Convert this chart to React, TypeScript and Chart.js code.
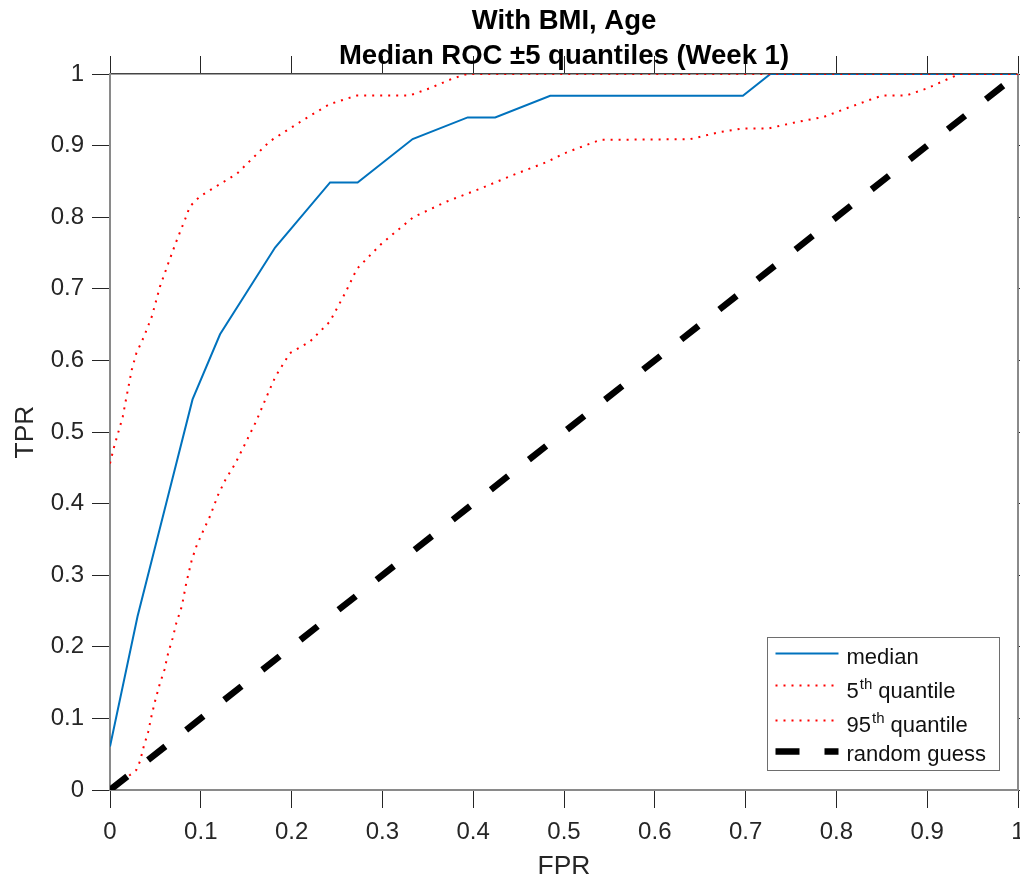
import React, { useEffect, useRef } from "react";
import { Chart, registerables } from "chart.js";

Chart.register(...registerables);

// ---------- text ----------
const titleLines = ["With BMI, Age", "Median ROC ±5 quantiles (Week 1)"];
const xAxisLabel = "FPR";
const yAxisLabel = "TPR";
const tickLabels = ["0", "0.1", "0.2", "0.3", "0.4", "0.5", "0.6", "0.7", "0.8", "0.9", "1"];
// legend: [base, superscript, rest]
const legendLabels: [string, string, string][] = [
  ["median", "", ""],
  ["5", "th", " quantile"],
  ["95", "th", " quantile"],
  ["random guess", "", ""],
];

// ---------- data ----------
const medianFPR = [0, 0.0303, 0.0606, 0.0909, 0.1212, 0.1818, 0.2424, 0.2727, 0.3333, 0.3939, 0.4242, 0.4848, 0.697, 0.7273, 1];
const medianTPR = [0.0606, 0.2424, 0.394, 0.5455, 0.6364, 0.7576, 0.8485, 0.8485, 0.9091, 0.9394, 0.9394, 0.9697, 0.9697, 1, 1];

const upperFPR = [0, 0.004, 0.009, 0.014, 0.018, 0.024, 0.029, 0.037, 0.046, 0.055, 0.064, 0.073, 0.083, 0.088, 0.099, 0.14, 0.176, 0.213, 0.242, 0.272, 0.33, 0.352, 0.378, 0.393, 1];
const upperTPR = [0.456, 0.477, 0.499, 0.521, 0.548, 0.587, 0.61, 0.632, 0.661, 0.703, 0.735, 0.766, 0.798, 0.815, 0.829, 0.861, 0.906, 0.936, 0.958, 0.97, 0.97, 0.98, 0.994, 1, 1];

const lowerFPR = [0, 0.022, 0.029, 0.033, 0.037, 0.042, 0.046, 0.05, 0.055, 0.06, 0.064, 0.069, 0.073, 0.079, 0.084, 0.09, 0.095, 0.103, 0.11, 0.119, 0.127, 0.138, 0.149, 0.161, 0.171, 0.182, 0.198, 0.22, 0.242, 0.259, 0.272, 0.299, 0.334, 0.371, 0.408, 0.444, 0.481, 0.5, 0.525, 0.54, 0.639, 0.672, 0.698, 0.725, 0.753, 0.786, 0.811, 0.837, 0.851, 0.877, 0.9, 0.921, 0.936, 1];
const lowerTPR = [0, 0.021, 0.028, 0.04, 0.06, 0.081, 0.105, 0.126, 0.149, 0.168, 0.191, 0.212, 0.233, 0.256, 0.289, 0.321, 0.34, 0.363, 0.382, 0.412, 0.433, 0.456, 0.484, 0.515, 0.545, 0.577, 0.61, 0.626, 0.654, 0.694, 0.728, 0.763, 0.8, 0.822, 0.84, 0.859, 0.877, 0.889, 0.901, 0.908, 0.909, 0.919, 0.924, 0.924, 0.932, 0.94, 0.952, 0.964, 0.97, 0.97, 0.98, 0.992, 1, 1];

const randomFPR = [0, 1];
const randomTPR = [0, 1];

const pairs = (xs: number[], ys: number[]) => xs.map((x, i) => ({ x, y: ys[i] }));

const FONT = "'Liberation Sans', Arial, Helvetica, sans-serif";
const TEXT = "#262626";

const legendPlugin = {
  id: "matlabLegend",
  afterDraw(chart: any) {
    const { ctx, chartArea } = chart;
    const ds = chart.data.datasets;
    ctx.save();
    const bw = 232;
    const bh = 133;
    const bx = Math.round(chartArea.right - 19 - bw) + 0.5;
    const by = Math.round(chartArea.bottom - 20 - bh) + 0.5;
    ctx.fillStyle = "#ffffff";
    ctx.fillRect(bx, by, bw, bh);
    ctx.strokeStyle = "#6e6e6e";
    ctx.lineWidth = 1;
    ctx.strokeRect(bx, by, bw, bh);
    const lineY = [16, 48, 83, 114];
    const baseY = [26, 60, 94, 123];
    const x0 = bx + 8;
    const x1 = bx + 71;
    const tx = bx + 79;
    legendLabels.forEach((lab, i) => {
      const d = ds[i];
      ctx.save();
      ctx.beginPath();
      ctx.strokeStyle = d.borderColor;
      ctx.lineWidth = d.borderWidth;
      ctx.lineCap = "butt";
      ctx.setLineDash(d.legendDash || d.borderDash || []);
      ctx.moveTo(x0, by + lineY[i]);
      ctx.lineTo(x1, by + lineY[i]);
      ctx.stroke();
      ctx.restore();
      ctx.fillStyle = "#111";
      ctx.textBaseline = "alphabetic";
      ctx.textAlign = "left";
      ctx.font = `22px ${FONT}`;
      let x = tx;
      const y = by + baseY[i];
      ctx.fillText(lab[0], x, y);
      x += ctx.measureText(lab[0]).width;
      if (lab[1]) {
        ctx.font = `15px ${FONT}`;
        ctx.fillText(lab[1], x + 1, y - 9);
        x += ctx.measureText(lab[1]).width + 1;
        ctx.font = `22px ${FONT}`;
        ctx.fillText(lab[2], x, y);
      }
    });
    ctx.restore();
  },
};

const tickFmt = (v: any) => {
  const i = Math.round(Number(v) * 10);
  return Math.abs(Number(v) * 10 - i) < 1e-6 ? tickLabels[i] : "";
};

export default function App() {
  const ref = useRef<HTMLCanvasElement | null>(null);
  useEffect(() => {
    if (!ref.current) return;
    Chart.defaults.font.family = FONT;
    const common = {
      type: "linear" as const,
      min: 0,
      max: 1,
    };
    const chart = new Chart(ref.current, {
      type: "scatter",
      data: {
        datasets: [
          {
            label: "median",
            data: pairs(medianFPR, medianTPR),
            showLine: true,
            borderColor: "#0072BD",
            borderWidth: 2,
            pointRadius: 0,
            order: 4,
          },
          {
            label: "5th quantile",
            data: pairs(upperFPR, upperTPR),
            showLine: true,
            borderColor: "#FF0000",
            borderWidth: 2,
            borderDash: [2, 6],
            pointRadius: 0,
            order: 3,
          },
          {
            label: "95th quantile",
            data: pairs(lowerFPR, lowerTPR),
            showLine: true,
            borderColor: "#FF0000",
            borderWidth: 2,
            borderDash: [2, 6],
            pointRadius: 0,
            order: 2,
          },
          {
            label: "random guess",
            data: pairs(randomFPR, randomTPR),
            showLine: true,
            borderColor: "#000000",
            borderWidth: 6.5,
            borderDash: [22, 26.5],
            legendDash: [24, 25],
            borderCapStyle: "butt",
            pointRadius: 0,
            order: 1,
          },
        ] as any,
      },
      options: {
        animation: false,
        responsive: true,
        maintainAspectRatio: false,
        devicePixelRatio: 1,
        layout: { padding: 0 },
        events: [],
        plugins: {
          legend: { display: false },
          tooltip: { enabled: false },
          title: {
            display: true,
            fullSize: false,
            text: titleLines,
            color: "#000",
            font: { size: 27.5, weight: "bold", lineHeight: 35 / 27.5, family: FONT },
            padding: { top: 4, bottom: 0 },
          },
        },
        scales: {
          x: {
            ...common,
            position: "bottom",
            ticks: { stepSize: 0.1, callback: tickFmt, color: TEXT, font: { size: 24 }, padding: 10, maxRotation: 0, autoSkip: false },
            grid: { drawOnChartArea: false, drawTicks: true, tickLength: 18, tickColor: "#262626", lineWidth: 1 },
            border: { display: true, color: "#8a8a8a", width: 2 },
            title: { display: true, text: xAxisLabel, color: TEXT, font: { size: 26.4, lineHeight: 1 }, padding: { top: 0, bottom: 0 } },
            afterFit: (s: any) => {
              s.height = 90;
              s.paddingLeft = 0;
              s.paddingRight = 0;
            },
          },
          x2: {
            ...common,
            position: "top",
            ticks: { stepSize: 0.1, display: false },
            grid: { drawOnChartArea: false, drawTicks: true, tickLength: 18, tickColor: "#262626", lineWidth: 1 },
            border: { display: true, color: "#444444", width: 1.5 },
            afterFit: (s: any) => {
              s.height = 0;
              s.paddingLeft = 0;
              s.paddingRight = 0;
            },
          },
          y: {
            ...common,
            position: "left",
            ticks: { stepSize: 0.1, callback: tickFmt, color: TEXT, font: { size: 24 }, padding: 8, autoSkip: false },
            grid: { drawOnChartArea: false, drawTicks: true, tickLength: 18, tickColor: "#262626", lineWidth: 1 },
            border: { display: true, color: "#8a8a8a", width: 2 },
            title: { display: true, text: yAxisLabel, color: TEXT, font: { size: 26.4, lineHeight: 1 }, padding: { top: 13, bottom: 0 } },
            afterFit: (s: any) => {
              s.width = 110;
              s.paddingTop = 0;
              s.paddingBottom = 0;
            },
          },
          y2: {
            ...common,
            position: "right",
            ticks: { stepSize: 0.1, display: false },
            grid: { drawOnChartArea: false, drawTicks: true, tickLength: 18, tickColor: "#262626", lineWidth: 1 },
            border: { display: true, color: "#8a8a8a", width: 2 },
            afterFit: (s: any) => {
              s.width = 2;
              s.paddingTop = 0;
              s.paddingBottom = 0;
            },
          },
        },
      } as any,
      plugins: [legendPlugin],
    });
    return () => chart.destroy();
  }, []);

  return (
    <div style={{ position: "absolute", left: 0, top: 0, width: 1020, height: 880, background: "#fff" }}>
      <canvas ref={ref} />
    </div>
  );
}
